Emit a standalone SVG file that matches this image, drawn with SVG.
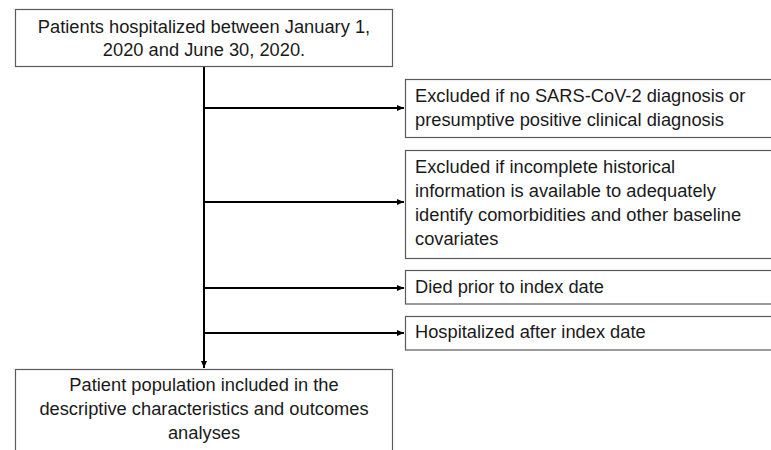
<svg xmlns="http://www.w3.org/2000/svg" width="771" height="450" viewBox="0 0 771 450">
<style>
.box{fill:#fff;stroke:#5a5a5a;stroke-width:1.2}
.t{font-family:"Liberation Sans",Arial,sans-serif;font-size:18.3px;fill:#1a1a1a}
.c{text-anchor:middle}
.ln{stroke:#000;stroke-width:2;fill:none}
</style>
<defs>
<marker id="ah" markerWidth="8" markerHeight="8" refX="7" refY="4" orient="auto" markerUnits="userSpaceOnUse">
<path d="M0,1 L7,4 L0,7 Z" fill="#000"/>
</marker>
</defs>
<rect width="771" height="450" fill="#fff"/>
<g id="connectors">
<line class="ln" x1="204" y1="66" x2="204" y2="368" marker-end="url(#ah)"/>
<line class="ln" x1="204" y1="108" x2="404" y2="108" marker-end="url(#ah)"/>
<line class="ln" x1="204" y1="202" x2="404" y2="202" marker-end="url(#ah)"/>
<line class="ln" x1="204" y1="288" x2="404" y2="288" marker-end="url(#ah)"/>
<line class="ln" x1="204" y1="333" x2="404" y2="333" marker-end="url(#ah)"/>
</g>
<g id="n-start">
<rect class="box" x="15.5" y="9.5" width="377" height="57"/>
<text class="t c" x="204" y="33">Patients hospitalized between January 1,</text>
<text class="t c" x="204" y="56">2020 and June 30, 2020.</text>
</g>
<g id="n-excl1">
<rect class="box" x="405.5" y="79.5" width="370" height="58"/>
<text class="t" x="415" y="102">Excluded if no SARS-CoV-2 diagnosis or</text>
<text class="t" x="415" y="126">presumptive positive clinical diagnosis</text>
</g>
<g id="n-excl2">
<rect class="box" x="405.5" y="150.5" width="370" height="108"/>
<text class="t" x="415" y="173">Excluded if incomplete historical</text>
<text class="t" x="415" y="197">information is available to adequately</text>
<text class="t" x="415" y="221">identify comorbidities and other baseline</text>
<text class="t" x="415" y="245">covariates</text>
</g>
<g id="n-excl3">
<rect class="box" x="405.5" y="270.5" width="370" height="33.5"/>
<text class="t" x="415" y="293">Died prior to index date</text>
</g>
<g id="n-excl4">
<rect class="box" x="405.5" y="316.5" width="370" height="33.5"/>
<text class="t" x="415" y="338">Hospitalized after index date</text>
</g>
<g id="n-final">
<rect class="box" x="15.5" y="369.5" width="377" height="90"/>
<text class="t c" x="204" y="391">Patient population included in the</text>
<text class="t c" x="204" y="415">descriptive characteristics and outcomes</text>
<text class="t c" x="204" y="439">analyses</text>
</g>
</svg>
